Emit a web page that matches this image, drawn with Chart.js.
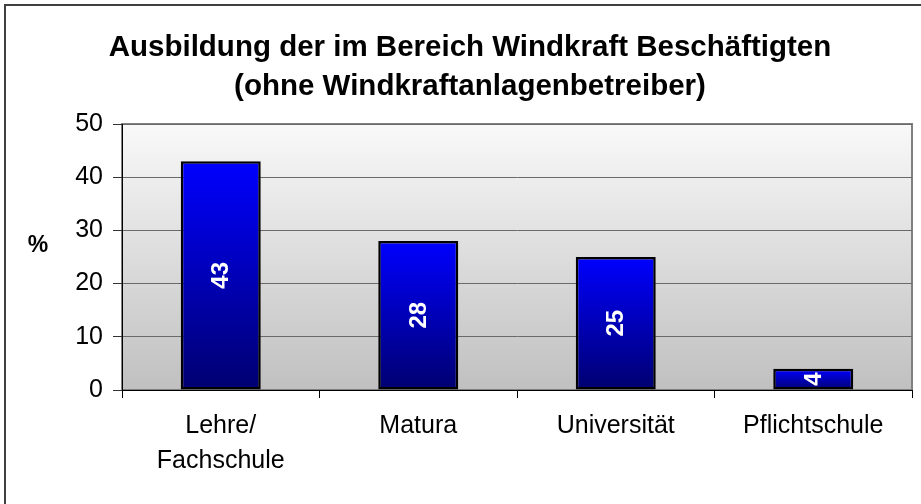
<!DOCTYPE html>
<html>
<head>
<meta charset="utf-8">
<script src="https://cdn.jsdelivr.net/npm/chart.js@4"></script>
<style>
  html, body { margin: 0; padding: 0; background: #ffffff; }
  #wrap { width: 921px; height: 504px; position: relative; }
</style>
</head>
<body>
<div id="wrap"><canvas id="c" width="921" height="504"></canvas></div>
<script>
// ---- data ----
const categories = [['Lehre/', 'Fachschule'], 'Matura', 'Universität', 'Pflichtschule'];
const values = [43, 28, 25, 4];
const yTickValues = [0, 10, 20, 30, 40, 50];
const titleLines = ['Ausbildung der im Bereich Windkraft Beschäftigten', '(ohne Windkraftanlagenbetreiber)'];
const yAxisLabel = '%';

const FONT = '"Liberation Sans", Arial, sans-serif';

const framePlugin = {
  id: 'frame',
  beforeDraw(chart) {
    const ctx = chart.ctx;
    const a = chart.chartArea;
    ctx.save();
    ctx.fillStyle = '#ffffff';
    ctx.fillRect(0, 0, chart.width, chart.height);
    ctx.strokeStyle = '#404040';
    ctx.lineWidth = 2;
    ctx.beginPath();
    ctx.moveTo(5, chart.height + 2);
    ctx.lineTo(5, 5);
    ctx.lineTo(chart.width + 2, 5);
    ctx.stroke();
    const g = ctx.createLinearGradient(0, a.top, 0, a.bottom);
    g.addColorStop(0, '#f9f9f9');
    g.addColorStop(1, '#c0c0c0');
    ctx.fillStyle = g;
    ctx.fillRect(a.left, a.top, a.right - a.left, a.bottom - a.top);
    ctx.strokeStyle = '#808080';
    ctx.lineWidth = 2;
    ctx.strokeRect(a.left, a.top, a.right - a.left, a.bottom - a.top);
    ctx.restore();
  },
  afterDraw(chart) {
    const ctx = chart.ctx;
    ctx.save();
    ctx.fillStyle = '#000';
    ctx.font = 'bold 23px ' + FONT;
    ctx.textAlign = 'center';
    ctx.textBaseline = 'middle';
    ctx.fillText(yAxisLabel, 38, 246);
    ctx.restore();
  }
};

const valueLabelPlugin = {
  id: 'valueLabels',
  afterDatasetsDraw(chart) {
    const ctx = chart.ctx;
    const meta = chart.getDatasetMeta(0);
    ctx.save();
    ctx.fillStyle = '#ffffff';
    ctx.font = 'bold 24px ' + FONT;
    ctx.textAlign = 'center';
    ctx.textBaseline = 'middle';
    meta.data.forEach((bar, i) => {
      const cy = (bar.y + bar.base) / 2;
      ctx.save();
      ctx.translate(bar.x, cy);
      ctx.rotate(-Math.PI / 2);
      ctx.fillText(String(values[i]), 0, 1);
      ctx.restore();
    });
    ctx.restore();
  }
};

function barGradient(context) {
  const chart = context.chart;
  const ys = chart.scales && chart.scales.y;
  if (!ys || !context.parsed) return '#0000cc';
  const top = ys.getPixelForValue(context.parsed.y);
  const bottom = ys.getPixelForValue(0);
  if (!isFinite(top) || !isFinite(bottom) || top === bottom) return '#0000cc';
  const g = chart.ctx.createLinearGradient(0, top, 0, bottom);
  g.addColorStop(0, '#0000ff');
  g.addColorStop(1, '#000070');
  return g;
}

new Chart(document.getElementById('c'), {
  type: 'bar',
  data: {
    labels: categories,
    datasets: [{
      data: values,
      backgroundColor: barGradient,
      borderColor: '#000000',
      borderWidth: 2.5,
      borderSkipped: false,
      categoryPercentage: 1,
      barPercentage: 0.405
    }]
  },
  options: {
    responsive: false,
    animation: false,
    devicePixelRatio: 1,
    layout: { padding: { left: 28, right: 9, top: 0, bottom: 0 } },
    plugins: {
      legend: { display: false },
      tooltip: { enabled: false },
      title: {
        display: true,
        text: titleLines,
        color: '#000',
        font: { family: FONT, size: 29.5, weight: 'bold', lineHeight: '39px' },
        padding: { top: 28, bottom: 18 }
      }
    },
    scales: {
      x: {
        offset: true,
        afterFit(scale) { scale.height = 114; },
        grid: { offset: true, drawOnChartArea: false, drawTicks: true, tickLength: 8, tickColor: '#000', color: '#000' },
        border: { display: true, color: '#000', width: 1 },
        ticks: {
          color: '#000',
          padding: 11,
          maxRotation: 0,
          autoSkip: false,
          font: { family: FONT, size: 25, lineHeight: '35px' }
        }
      },
      y: {
        min: yTickValues[0],
        max: yTickValues[yTickValues.length - 1],
        afterFit(scale) { scale.width = 94; },
        afterBuildTicks(scale) { scale.ticks = yTickValues.map(v => ({ value: v })); },
        grid: { color: '#6a6a6a', lineWidth: 1, drawTicks: true, tickLength: 9, tickColor: '#333' },
        border: { display: true, color: '#000', width: 1 },
        ticks: {
          color: '#000',
          padding: 10,
          font: { family: FONT, size: 25 }
        }
      }
    }
  },
  plugins: [framePlugin, valueLabelPlugin]
});
</script>
</body>
</html>
